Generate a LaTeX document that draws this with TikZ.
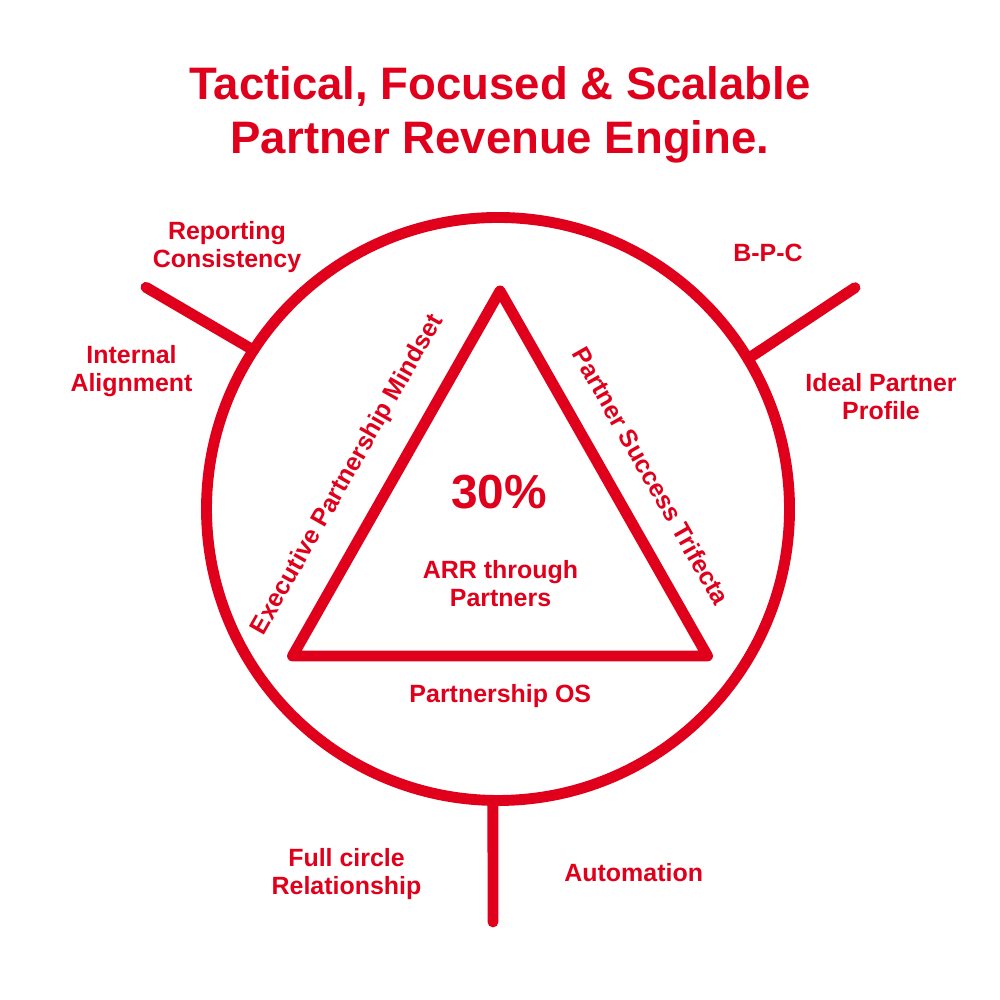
\documentclass[tikz,border=0pt]{standalone}
\usepackage{fontspec}
\setmainfont{Liberation Sans}
\definecolor{engred}{RGB}{224,0,27}
\tikzset{
  lbl/.style={font=\bfseries\fontsize{7.1}{8.05}\selectfont, text=engred,
    align=center, inner sep=0pt, anchor=base},
  bigtext/.style={lbl, font=\bfseries\fontsize{12.95}{15.17}\selectfont},
  edgetext/.style={lbl, anchor=center},
  ringline/.style={draw=engred, line width=3.1pt, line cap=round, line join=round},
}

\begin{document}
\begin{tikzpicture}
  \useasboundingbox[fill=white] (0,0) rectangle (10,10);
  % ring and spokes
  \node[circle, ringline, minimum size=5.83cm, inner sep=0pt, outer sep=0pt] (ring) at (4.98,4.91) {};
  \foreach \a/\l/\n in {147.8/4.16/left,31.8/4.20/right,269.3/4.13/down}
    \coordinate (end\n) at ([shift={(\a:\l)}]ring.center);
  \foreach \a/\n in {147.8/left,31.8/right,269.3/down}
    \draw[ringline] (ring.\a) -- (end\n);
  %
  % triangle
  \coordinate (top) at (5.00,7.09);
  \coordinate (bl) at (2.925,3.44);
  \coordinate (br) at (7.075,3.44);
  \draw[ringline] (top) -- (br) -- (bl) -- cycle;
  \node[edgetext, rotate=60.4] (exec) at (3.48,5.25) {Executive Partnership Mindset};
  \node[edgetext, rotate=-60.4] (trif) at (6.51,5.24) {Partner Success Trifecta};
  \node[lbl] (os) at (5.003,2.973) {Partnership OS};
  \node[bigtext, font=\bfseries\fontsize{13.6}{15}\selectfont] (pct) at (4.99,4.917) {30\%};
  \node[lbl] (arr) at (5.005,3.933) {ARR through\\Partners};
  %
  % outer labels
  \node[bigtext] (title) at (5.0,8.467) {Tactical, Focused \& Scalable\\Partner Revenue Engine.};
  \node[lbl] (report) at (2.27,7.325) {Reporting\\Consistency};
  \node[lbl] (align) at (1.315,6.083) {Internal\\Alignment};
  \node[lbl] (bpc) at (7.68,7.383) {B-P-C};
  \node[lbl] (ideal) at (8.81,5.80) {Ideal Partner\\Profile};
  \node[lbl] (full) at (3.465,1.05) {Full circle\\Relationship};
  \node[lbl] (auto) at (6.337,1.183) {Automation};
\end{tikzpicture}
\end{document}
